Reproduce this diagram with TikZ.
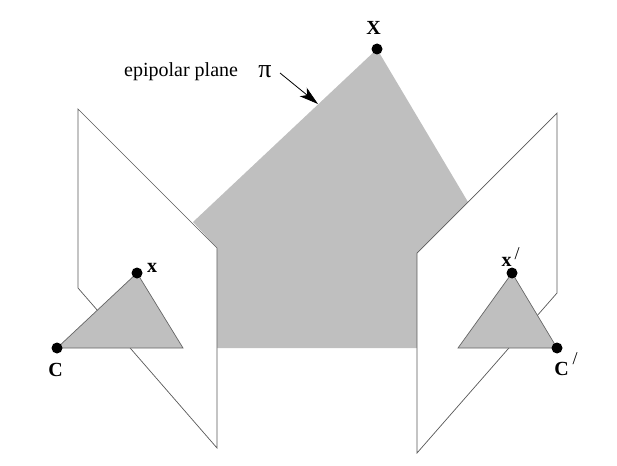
\documentclass[tikz,border=0pt]{standalone}
\usepackage{fontspec}
\setmainfont{Liberation Serif}
\usetikzlibrary{arrows.meta}

\tikzset{
    panel/.style={draw=black!65,line width=0.7pt,fill=white},
    shaded/.style={fill=black!25},
    patch/.style={draw=black!60,line width=0.7pt,fill=black!25},
    point/.style={circle,fill=black,inner sep=0pt,minimum size=11pt},
    bold label/.style={inner sep=0pt,font=\fontsize{20}{20}\selectfont\bfseries},
    prime label/.style={inner sep=0pt,font=\fontsize{18}{18}\selectfont},
}

\begin{document}
\begin{tikzpicture}[x=1pt,y=-1pt]
    \useasboundingbox (0,0) rectangle (617,465);

    % Epipolar plane, behind the two image planes
    \coordinate (X) at (377,49);
    \fill[shaded] (X) -- (193,222) -- (217,248) -- (217,348) -- (417,348)
        -- (417,253) -- (468,202) -- cycle;

    % Image planes
    \draw[panel] (78,109) -- (217,248) -- (217,448) -- (78,288) -- cycle;
    \draw[panel] (557,113) -- (417,253) -- (417,453) -- (557,293) -- cycle;

    % Triangles in the image planes
    \coordinate (C) at (57,348);
    \coordinate (x) at (137,273);
    \coordinate (Cp) at (557,348);
    \coordinate (xp) at (512,273);
    \draw[patch] (C) -- (x) -- (183,348) -- cycle;
    \draw[patch] (Cp) -- (xp) -- (458,348) -- cycle;

    % Points
    \node[point] (Xdot) at (X) {};
    \node[point] (Cdot) at (C) {};
    \node[point] (xdot) at (x) {};
    \node[point] (Cpdot) at (Cp) {};
    \node[point] (xpdot) at (xp) {};

    % Labels
    \node[bold label] (Xlabel) at (373.5,28) {X};
    \node[bold label] (Clabel) at (55.5,369.5) {C};
    \node[bold label] (xlabel) at (152,268) {x};
    \node[bold label] (Cplabel) at (561.5,368.5) {C};
    \node[bold label] (xplabel) at (506.5,262) {x};
    \node[prime label] (Cpprime) at (575,359) {/};
    \node[prime label] (xpprime) at (517,254) {/};

    \node[inner sep=0pt,anchor=base west,font=\fontsize{20}{20}\selectfont] (plane) at (124,77) {epipolar plane};
    \node[inner sep=0pt,font=\fontsize{26}{26}\selectfont] (pi) at (265,72) {π};

    % Arrow onto the plane
    \coordinate (tail) at (280,73);
    \coordinate (hit) at (318,104);
    \draw[-{Stealth[length=19pt,width=11pt,inset=5pt]},line width=0.8pt] (tail) -- (hit);
\end{tikzpicture}
\end{document}
